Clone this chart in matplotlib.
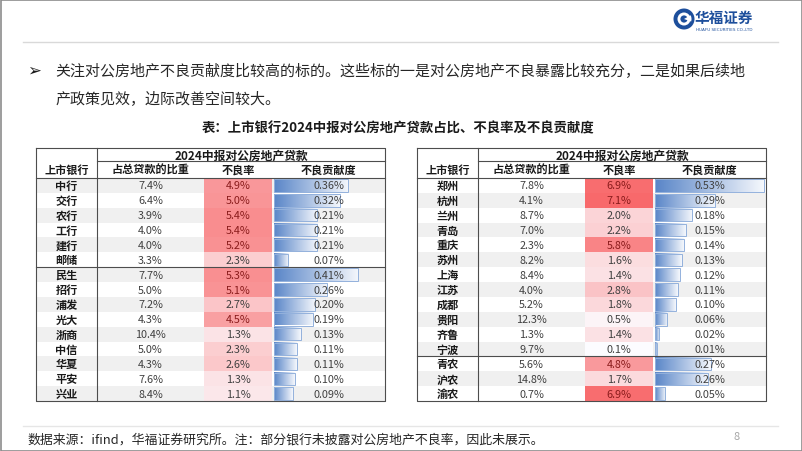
import numpy as np
import matplotlib
matplotlib.use("Agg")
import matplotlib.pyplot as plt
from matplotlib.patches import Rectangle, Circle, Wedge
from matplotlib.colors import LinearSegmentedColormap

plt.rcParams['font.family'] = ['Noto Sans CJK SC', 'DejaVu Sans']

# ---- data ----
banks_l = ['中行', '交行', '农行', '工行', '建行', '邮储', '民生', '招行',
           '浦发', '光大', '浙商', '中信', '华夏', '平安', '兴业']
share_l = [7.4, 6.4, 3.9, 4.0, 4.0, 3.3, 7.7, 5.0, 7.2, 4.3, 10.4, 5.0, 4.3, 7.6, 8.4]
npl_l = [4.9, 5.0, 5.4, 5.4, 5.2, 2.3, 5.3, 5.1, 2.7, 4.5, 1.3, 2.3, 2.6, 1.3, 1.1]
contrib_l = [0.36, 0.32, 0.21, 0.21, 0.21, 0.07, 0.41, 0.26, 0.20, 0.19, 0.13,
             0.11, 0.11, 0.10, 0.09]

banks_r = ['郑州', '杭州', '兰州', '青岛', '重庆', '苏州', '上海', '江苏',
           '成都', '贵阳', '齐鲁', '宁波', '青农', '沪农', '渝农']
share_r = [7.8, 4.1, 8.7, 7.0, 2.3, 8.2, 8.4, 4.0, 5.2, 12.3, 1.3, 9.7, 5.6, 14.8, 0.7]
npl_r = [6.9, 7.1, 2.0, 2.2, 5.8, 1.6, 1.4, 2.8, 1.8, 0.5, 1.4, 0.1, 4.8, 1.7, 6.9]
contrib_r = [0.53, 0.29, 0.18, 0.15, 0.14, 0.13, 0.12, 0.11, 0.10, 0.06, 0.02,
             0.01, 0.27, 0.26, 0.05]

col_titles = ['上市银行', '占总贷款的比重', '不良率', '不良贡献度']
group_title = '2024中报对公房地产贷款'

fig = plt.figure(figsize=(8.02, 4.52), dpi=100)
ax = fig.add_axes([0, 0, 1, 1])

npl_all = npl_l + npl_r
nmin, nmax = min(npl_all), max(npl_all)
cmax = max(contrib_l + contrib_r)
red_lo = np.array([252, 252, 255]) / 255
red_hi = np.array([248, 105, 107]) / 255
blue_cmap = LinearSegmentedColormap.from_list('bar', ['#5a86c8', '#f4f7fc'])
grad = np.linspace(0, 1, 64).reshape(1, -1)

top, h1, h2, row_h = 149, 13, 17, 14.87
line_c = '#4d4d4d'


def draw_table(x0, banks, share, npl, contrib, brk, gray_even):
    w = [61, 107, 68, 113]
    xs = np.concatenate([[x0], x0 + np.cumsum(w)])
    y_data = top + h1 + h2
    n = len(banks)
    y_end = y_data + n * row_h
    for i in range(n):
        y = y_data + i * row_h
        if (i % 2 == 0) == gray_even:
            ax.add_patch(Rectangle((xs[0], y), xs[4] - xs[0], row_h,
                                   fc='#f0f0f0', ec='none'))
        f = (npl[i] - nmin) / (nmax - nmin)
        ax.add_patch(Rectangle((xs[2], y), w[2], row_h,
                               fc=red_lo + f * (red_hi - red_lo), ec='none'))
        bw = contrib[i] / cmax * (w[3] - 4)
        bx, by, bh = xs[3] + 2, y + 1.2, row_h - 2.4
        ax.imshow(grad, cmap=blue_cmap, extent=[bx, bx + bw, by + bh, by],
                  aspect='auto', interpolation='bilinear', zorder=2)
        ax.add_patch(Rectangle((bx, by), bw, bh, fc='none', ec='#93b1dc',
                               lw=0.7, zorder=3))
        yc = y + row_h / 2
        ax.text((xs[0] + xs[1]) / 2, yc, banks[i], ha='center', va='center',
                fontsize=8, fontweight='bold', color='#1a1a1a', zorder=4)
        ax.text((xs[1] + xs[2]) / 2, yc, f'{share[i]:.1f}%', ha='center',
                va='center', fontsize=7.8, color='#404040', zorder=4)
        ax.text((xs[2] + xs[3]) / 2, yc, f'{npl[i]:.1f}%', ha='center',
                va='center', fontsize=7.8,
                color='#8a1c1c' if f > 0.55 else '#404040', zorder=4)
        ax.text((xs[3] + xs[4]) / 2, yc, f'{contrib[i]:.2f}%', ha='center',
                va='center', fontsize=7.8, color='#404040', zorder=4)
    # headers
    ax.text((xs[1] + xs[4]) / 2, top + h1 / 2 + 0.5, group_title, ha='center',
            va='center', fontsize=8.5, fontweight='bold', color='#1a1a1a')
    for j, t in enumerate(col_titles):
        ax.text((xs[j] + xs[j + 1]) / 2, top + h1 + h2 / 2, t, ha='center',
                va='center', fontsize=8, fontweight='bold', color='#1a1a1a')
    # grid lines
    kw = dict(color=line_c, lw=0.8, zorder=5)
    ax.plot([xs[0], xs[4], xs[4], xs[0], xs[0]],
            [top, top, y_end, y_end, top], **kw)
    ax.plot([xs[1], xs[1]], [top, y_end], **kw)
    ax.plot([xs[1], xs[4]], [top + h1, top + h1], **kw)
    ax.plot([xs[0], xs[4]], [y_data, y_data], **kw)
    yb = y_data + brk * row_h
    ax.plot([xs[0], xs[4]], [yb, yb], **kw)


draw_table(36, banks_l, share_l, npl_l, contrib_l, 6, True)
draw_table(417, banks_r, share_r, npl_r, contrib_r, 12, False)

# ---- page decorations ----
ax.plot([23, 778], [43, 43], color='#d9d9d9', lw=1)
ax.plot([23, 778], [427, 427], color='#e6e6e6', lw=1)
ax.add_patch(Rectangle((0.5, 0.5), 801, 451, fc='none', ec='#8c8c8c', lw=1.2))

# logo
ax.add_patch(Circle((684, 20), 10.5, fc='#1d4f9c', ec='none'))
ax.add_patch(Circle((684, 20), 6.5, fc='white', ec='none'))
ax.add_patch(Circle((684, 20), 3.6, fc='#1d4f9c', ec='none'))
ax.add_patch(Wedge((684, 20), 7.5, 330, 20, fc='white', ec='none'))
ax.text(724, 18, '华福证券', ha='center', va='center', fontsize=10.5,
        fontweight='bold', color='#1d4f9c')
ax.text(724, 30, 'HUAFU SECURITIES CO.,LTD', ha='center', va='center',
        fontsize=3, color='#1d4f9c', family=['DejaVu Sans'])

ax.text(34, 71, '➢', ha='center', va='center', fontsize=12,
        color='#1a1a1a', family=['DejaVu Sans'])
ax.text(55, 71, '关注对公房地产不良贡献度比较高的标的。这些标的一是对公房地产不良暴露比较充分，二是如果后续地',
        ha='left', va='center', fontsize=10.8, color='#262626')
ax.text(55, 99, '产政策见效，边际改善空间较大。', ha='left', va='center',
        fontsize=10.8, color='#262626')
ax.text(398, 128, '表：上市银行2024中报对公房地产贷款占比、不良率及不良贡献度',
        ha='center', va='center', fontsize=9.6, fontweight='bold', color='#1a1a1a')
ax.text(27, 440, '数据来源：ifind，华福证券研究所。注：部分银行未披露对公房地产不良率，因此未展示。',
        ha='left', va='center', fontsize=9.3, color='#262626')
ax.text(737, 437, '8', ha='center', va='center', fontsize=8, color='#a6a6a6')

ax.set_xlim(0, 802)
ax.set_ylim(452, 0)
ax.axis('off')
fig.savefig('out.png', dpi=100)
